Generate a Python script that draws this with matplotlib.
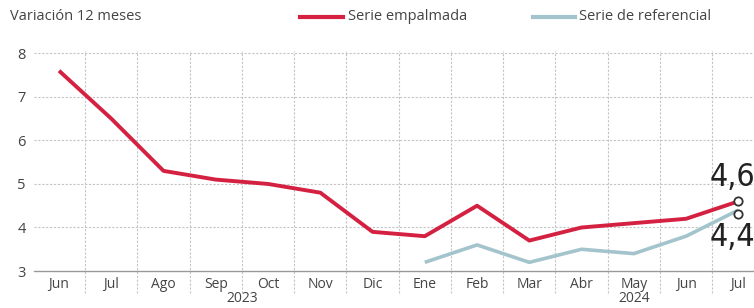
import matplotlib
matplotlib.use("Agg")
import matplotlib.pyplot as plt

months = ["Jun", "Jul", "Ago", "Sep", "Oct", "Nov", "Dic", "Ene", "Feb", "Mar", "Abr", "May", "Jun", "Jul"]
serie_empalmada = [7.6, 6.5, 5.3, 5.1, 5.0, 4.8, 3.9, 3.8, 4.5, 3.7, 4.0, 4.1, 4.2, 4.6]
ref_start = 7
serie_referencial = [3.2, 3.6, 3.2, 3.5, 3.4, 3.8, 4.4]
y_ticks = [3, 4, 5, 6, 7, 8]
years = ["2023", "2024"]
year_pos = [3.5, 11]
end_labels = ["4,6", "4,4"]

RED = "#d42141"
BLUE = "#a3c4cc"
TXT = "#444444"

plt.rcParams["font.family"] = ["Open Sans", "DejaVu Sans"]

fig = plt.figure(figsize=(7.54, 3.08), dpi=100)
ax = fig.add_axes([0.045, 0.12, 0.955, 0.714])

x = list(range(len(months)))
ax.plot(x, serie_empalmada, color=RED, lw=2.8, solid_capstyle="butt", zorder=3)
xr = list(range(ref_start, ref_start + len(serie_referencial)))
ax.plot(xr, serie_referencial, color=BLUE, lw=2.6, solid_capstyle="butt", zorder=2)

# end markers
ax.plot([x[-1]], [serie_empalmada[-1]], marker="o", ms=6, mfc="white", mec="#333333", mew=1.3, zorder=4, ls="none")
ax.plot([xr[-1]], [serie_referencial[-1] - 0.08], marker="o", ms=6, mfc="white", mec="#333333", mew=1.3, zorder=4, ls="none")

ax.set_xlim(-0.48, 13.3)
ax.set_ylim(3, 8.05)

for s in ["top", "right", "left"]:
    ax.spines[s].set_visible(False)
ax.spines["bottom"].set_color("#999999")
ax.spines["bottom"].set_linewidth(1.0)

ax.set_yticks(y_ticks)
ax.set_yticklabels([str(v) for v in y_ticks], fontsize=10.5, color=TXT)
ax.tick_params(axis="y", length=0, pad=6)
for v in y_ticks[1:]:
    ax.axhline(v, color="#c4c4c4", lw=0.8, ls=(0, (2, 1.5)), zorder=1)

ax.set_xticks(x)
ax.set_xticklabels(months, fontsize=10, color=TXT)
ax.tick_params(axis="x", length=0, pad=4)
for i in range(len(months) - 1):
    ax.axvline(i + 0.5, ymin=-0.1, ymax=1, color="#c4c4c4", lw=0.8, ls=(0, (2, 1.5)), zorder=1, clip_on=False)

for yl, yp in zip(years, year_pos):
    ax.text(yp, -0.125, yl, transform=ax.get_xaxis_transform(), ha="center", va="center", fontsize=10, color=TXT)

lab_font = dict(fontsize=23, color="#222222", family=["DejaVu Sans", "Open Sans"], fontstretch="condensed")
ax.text(13.32, serie_empalmada[-1] + 0.2, end_labels[0], ha="right", va="bottom", **lab_font)
ax.text(13.32, serie_referencial[-1] - 0.27, end_labels[1], ha="right", va="top", **lab_font)

# header
fig.text(10 / 754, 1 - 17 / 308, "Variación 12 meses", ha="left", va="center", fontsize=10.5, color=TXT)
fig.add_artist(plt.Line2D([300 / 754, 343 / 754], [1 - 17 / 308] * 2, color=RED, lw=3))
fig.text(348 / 754, 1 - 17 / 308, "Serie empalmada", ha="left", va="center", fontsize=10.5, color=TXT)
fig.add_artist(plt.Line2D([533 / 754, 575 / 754], [1 - 17 / 308] * 2, color=BLUE, lw=3))
fig.text(579 / 754, 1 - 17 / 308, "Serie de referencial", ha="left", va="center", fontsize=10.5, color=TXT)

fig.savefig("out.png", dpi=100)
